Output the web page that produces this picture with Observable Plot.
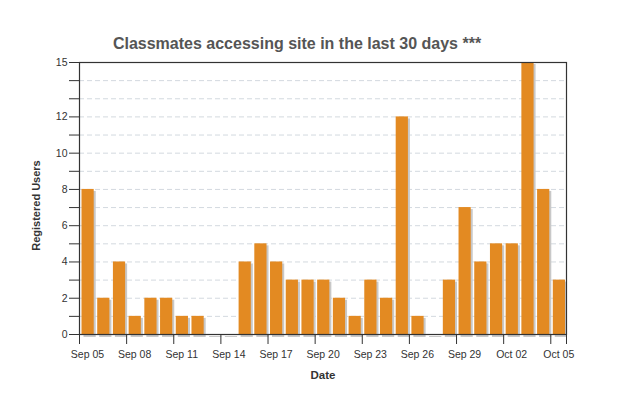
<!DOCTYPE html>
<html><head><meta charset="utf-8">
<script src="https://cdn.jsdelivr.net/npm/d3@7"></script>
<script src="https://cdn.jsdelivr.net/npm/@observablehq/plot@0.6"></script>
<style>body{margin:0;background:#fff} svg{display:block}</style>
</head><body><div id="chart"></div>
<script>
const days = ["2012-09-05","2012-09-06","2012-09-07","2012-09-08","2012-09-09","2012-09-10","2012-09-11","2012-09-12","2012-09-13","2012-09-14","2012-09-15","2012-09-16","2012-09-17","2012-09-18","2012-09-19","2012-09-20","2012-09-21","2012-09-22","2012-09-23","2012-09-24","2012-09-25","2012-09-26","2012-09-27","2012-09-28","2012-09-29","2012-09-30","2012-10-01","2012-10-02","2012-10-03","2012-10-04","2012-10-05"];
const users = [8,2,4,1,2,2,1,1,0,0,4,5,4,3,3,3,2,1,3,2,12,1,0,3,7,4,5,5,15,8,3];
const xTickLabels = ["2012-09-05","2012-09-08","2012-09-11","2012-09-14","2012-09-17","2012-09-20","2012-09-23","2012-09-26","2012-09-29","2012-10-02","2012-10-05"];
const xDomainEnd = "2012-10-06";
const yTickLabels = [0,2,4,6,8,10,12,15];
const yTickMarks = [0,1,2,3,4,5,6,7,8,9,10,11,12,13,14,15];
const yGrid = [1,2,3,4,5,6,7,8,9,10,11,12,13,14];
const title = "Classmates accessing site in the last 30 days ***";
const xLabel = "Date";
const yLabel = "Registered Users";

const parse = d3.utcParse("%Y-%m-%d");
const data = days.map((d, i) => ({start: parse(d), end: d3.utcDay.offset(parse(d), 1), value: users[i]}));
const fmt = d3.utcFormat("%b %d");
const tickDates = xTickLabels.map(parse);
const tickMarks = [...tickDates, parse(xDomainEnd)];
const font = "'Liberation Sans', Arial, Helvetica, sans-serif";

const chart = Plot.plot({
  width: 620, height: 394,
  marginLeft: 79, marginRight: 54, marginTop: 62, marginBottom: 60,
  style: {fontFamily: font, fontSize: "10.5px", color: "#333", background: "#fff", overflow: "visible"},
  x: {type: "utc", domain: [parse(days[0]), parse(xDomainEnd)]},
  y: {domain: [0, 15]},
  marks: [
    Plot.gridY(yGrid, {stroke: "#d3d9df", strokeOpacity: 1, strokeDasharray: "5,3"}),
    Plot.rectY(data, {x1: "start", x2: "end", y: "value", fill: "#c8c8c8", insetLeft: 2.5, insetRight: 1, dx: 2, dy: 2, insetBottom: -1}),
    Plot.rectY(data, {x1: "start", x2: "end", y: "value", fill: "#e38a22", insetLeft: 2.5, insetRight: 1}),
    Plot.frame({stroke: "#333", strokeWidth: 1.2}),
    Plot.axisX({ticks: tickMarks, tickSize: 10, tickFormat: () => "", stroke: "#333", label: null}),
    Plot.axisX({ticks: tickDates, tickSize: 0, tickPadding: 16, dx: 8, tickFormat: fmt, fill: "#333", label: null}),
    Plot.axisY({ticks: yTickMarks, tickSize: 10, tickFormat: () => "", stroke: "#333", label: null}),
    Plot.axisY({ticks: yTickLabels, tickSize: 0, tickPadding: 12, tickFormat: d => String(d), fill: "#333", label: null}),
    Plot.text([title], {frameAnchor: "top", textAnchor: "middle", dx: -26, dy: -25, fontSize: 16, fontWeight: "bold", fill: "#555"}),
    Plot.text([xLabel], {frameAnchor: "bottom", textAnchor: "middle", dy: 44, fontSize: 11.5, fontWeight: "bold", fill: "#333"}),
    Plot.text([yLabel], {frameAnchor: "left", textAnchor: "middle", dx: -43, dy: 7, rotate: -90, fontSize: 11, fontWeight: "bold", fill: "#333"})
  ]
});
document.getElementById("chart").append(chart);
</script>
</body></html>
